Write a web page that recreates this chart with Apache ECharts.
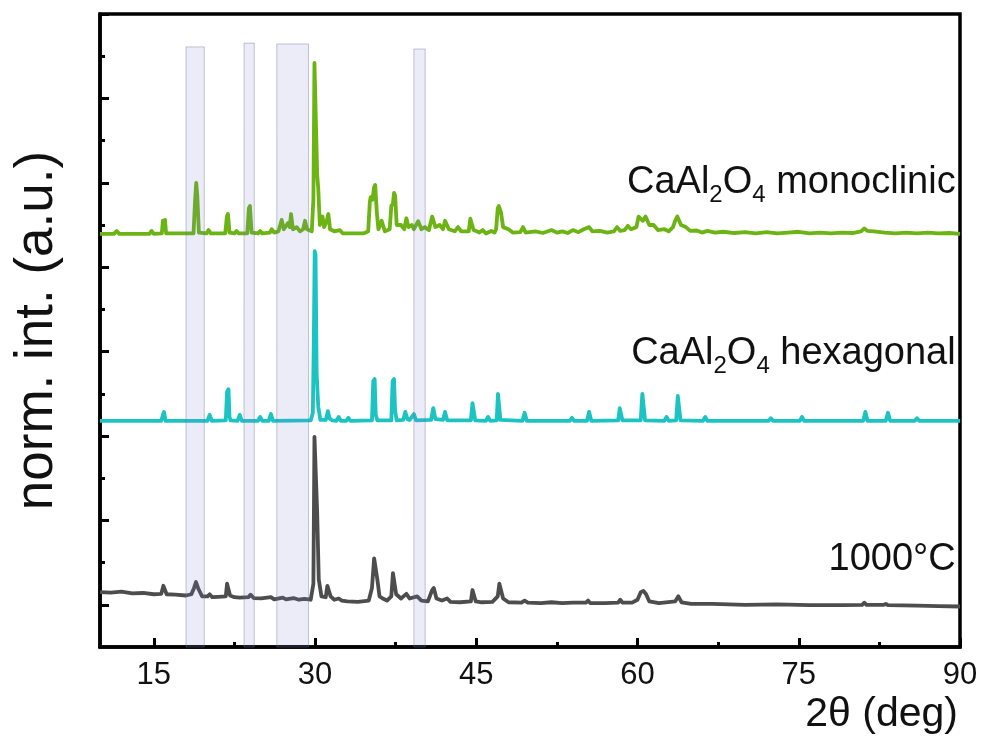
<!DOCTYPE html>
<html>
<head>
<meta charset="utf-8">
<title>XRD CaAl2O4</title>
<script src="https://cdn.jsdelivr.net/npm/echarts@6/dist/echarts.min.js"></script>
<style>
  html, body { margin: 0; padding: 0; background: #fff; }
  #chart { width: 984px; height: 749px; }
</style>
</head>
<body>
<div id="chart"></div>
<script>
  // x ticks (2theta, deg)
  const xMajorTicks = [15, 30, 45, 60, 75, 90];
  const xMinorTicks = [22.5, 37.5, 52.5, 67.5, 82.5];
  // y ticks (offset units, no labels)
  const yMajorTicks = [1, 3, 5, 7, 9, 11, 13, 15];
  const yMinorTicks = [2, 4, 6, 8, 10, 12, 14];

  // highlighted 2theta windows: [from, to, top]
  const bands = [
    [18.0, 19.7, 14.22],
    [23.4, 24.35, 14.31],
    [26.45, 29.4, 14.29],
    [39.2, 40.25, 14.17]
  ];

  // traces: [2theta, offset intensity]
  const monoclinic = [
    [10, 9.79], [11.3, 9.79], [11.55, 9.86], [11.8, 9.79], [14.6, 9.79], [14.8, 9.86], [15.0, 9.79],
    [15.75, 9.8], [15.85, 10.1], [16.05, 10.12], [16.15, 9.8], [18.7, 9.8], [18.85, 10.6], [18.95, 11.0],
    [19.05, 10.7], [19.2, 9.82], [19.9, 9.8], [20.1, 9.88], [20.3, 9.8], [21.65, 9.8], [21.8, 10.2],
    [21.9, 10.26], [22.05, 9.82], [22.5, 9.8], [22.7, 9.86], [22.9, 9.8], [23.7, 9.8], [23.85, 10.4],
    [23.95, 10.45], [24.1, 9.82], [24.7, 9.8], [24.9, 9.86], [25.1, 9.8], [25.8, 9.82], [25.97, 9.9],
    [26.2, 9.82], [26.6, 9.85], [26.9, 10.12], [27.1, 9.9], [27.5, 10.05], [27.65, 9.95], [27.77, 10.26],
    [27.95, 9.9], [28.3, 9.95], [28.6, 9.85], [28.9, 9.9], [29.07, 10.1], [29.25, 9.9], [29.7, 9.85],
    [29.85, 10.6], [29.95, 13.84], [30.05, 13.8], [30.2, 11.2], [30.3, 10.88], [30.45, 10.0], [30.7, 10.2],
    [30.85, 9.95], [31.1, 10.1], [31.24, 10.26], [31.4, 9.9], [31.8, 9.85], [32.3, 9.88], [32.6, 9.8],
    [33.5, 9.8], [34.5, 9.8], [34.95, 9.85], [35.1, 10.55], [35.18, 10.66], [35.35, 10.6], [35.5, 10.9],
    [35.6, 10.95], [35.75, 10.3], [35.9, 9.9], [36.2, 10.1], [36.5, 9.85], [36.95, 9.9], [37.1, 10.45],
    [37.25, 10.5], [37.35, 10.76], [37.45, 10.7], [37.6, 10.0], [38.0, 10.0], [38.3, 9.9], [38.5, 10.16],
    [38.7, 9.95], [39.0, 10.0], [39.2, 9.9], [39.6, 10.09], [39.9, 9.9], [40.2, 9.95], [40.6, 9.88],
    [40.9, 10.2], [41.0, 10.24], [41.2, 9.95], [41.6, 10.0], [41.9, 9.9], [42.1, 10.1], [42.25, 10.14],
    [42.45, 9.9], [43.0, 9.85], [43.3, 9.95], [43.6, 9.85], [44.3, 9.85], [44.45, 10.15], [44.57, 10.19],
    [44.75, 9.88], [45.3, 9.82], [45.6, 9.88], [45.9, 9.8], [46.4, 9.86], [46.7, 9.82], [46.85, 9.9],
    [47.0, 10.4], [47.1, 10.45], [47.3, 10.3], [47.5, 9.95], [48.0, 9.9], [48.4, 9.82], [49.1, 9.83],
    [49.35, 9.95], [49.6, 9.82], [50.5, 9.85], [51.2, 9.81], [52.0, 9.88], [52.5, 9.82], [53.0, 9.85],
    [53.5, 9.81], [54.0, 9.88], [54.5, 9.83], [55.0, 9.9], [55.5, 9.95], [55.8, 9.85], [56.5, 9.86],
    [57.2, 9.82], [57.8, 9.85], [58.1, 9.95], [58.4, 9.86], [58.8, 9.88], [59.1, 9.98], [59.4, 9.9],
    [59.9, 9.95], [60.1, 10.2], [60.25, 10.24], [60.5, 10.1], [60.75, 10.2], [60.9, 10.24], [61.1, 10.0],
    [61.5, 10.0], [61.9, 9.88], [62.5, 9.9], [62.9, 9.85], [63.3, 9.95], [63.5, 10.1], [63.7, 10.2],
    [63.85, 10.24], [64.05, 10.0], [64.5, 9.95], [64.9, 9.86], [65.5, 9.87], [66.0, 9.82], [66.5, 9.86],
    [67.2, 9.82], [68.0, 9.84], [69.0, 9.81], [70.0, 9.83], [71.0, 9.8], [72.0, 9.83], [73.0, 9.8],
    [74.0, 9.82], [75.0, 9.84], [76.0, 9.8], [77.0, 9.82], [78.0, 9.8], [79.0, 9.82], [80.0, 9.81],
    [80.8, 9.85], [81.1, 9.92], [81.4, 9.86], [82.0, 9.85], [83.0, 9.82], [84.0, 9.8], [85.0, 9.82],
    [86.0, 9.8], [87.0, 9.82], [88.0, 9.8], [89.0, 9.81], [90, 9.79]
  ];

  const hexagonal = [
    [10, 5.36], [15.7, 5.36], [15.85, 5.5], [15.95, 5.57], [16.1, 5.36], [20.0, 5.36], [20.2, 5.5],
    [20.4, 5.36], [21.7, 5.37], [21.82, 6.05], [21.95, 6.11], [22.05, 5.45], [22.15, 5.37], [22.8, 5.36],
    [23.0, 5.5], [23.2, 5.36], [24.7, 5.36], [24.9, 5.45], [25.1, 5.36], [25.7, 5.36], [25.9, 5.52],
    [26.1, 5.36], [29.6, 5.37], [29.8, 5.55], [29.9, 7.5], [29.97, 9.38], [30.05, 9.3], [30.15, 6.5],
    [30.3, 5.7], [30.5, 5.38], [31.0, 5.38], [31.2, 5.59], [31.35, 5.42], [31.6, 5.37], [32.0, 5.36],
    [32.2, 5.45], [32.4, 5.36], [32.9, 5.36], [33.1, 5.43], [33.3, 5.36], [35.3, 5.37], [35.42, 6.3],
    [35.55, 6.35], [35.65, 5.5], [35.8, 5.37], [37.1, 5.37], [37.22, 6.3], [37.35, 6.35], [37.45, 5.6],
    [37.6, 5.37], [38.2, 5.38], [38.4, 5.57], [38.6, 5.4], [38.8, 5.38], [39.2, 5.52], [39.4, 5.37],
    [40.8, 5.38], [41.0, 5.66], [41.2, 5.4], [41.9, 5.38], [42.1, 5.57], [42.3, 5.37], [44.5, 5.37],
    [44.65, 5.78], [44.75, 5.81], [44.9, 5.37], [45.9, 5.36], [46.1, 5.45], [46.3, 5.36], [46.9, 5.37],
    [47.02, 6.0], [47.12, 6.04], [47.25, 5.38], [49.3, 5.36], [49.5, 5.55], [49.7, 5.36], [53.7, 5.36],
    [53.9, 5.43], [54.1, 5.36], [55.3, 5.36], [55.5, 5.57], [55.7, 5.36], [58.2, 5.37], [58.35, 5.66],
    [58.45, 5.69], [58.6, 5.37], [60.3, 5.37], [60.45, 6.0], [60.55, 6.02], [60.7, 5.37], [62.5, 5.36],
    [62.7, 5.45], [62.9, 5.36], [63.6, 5.37], [63.75, 5.95], [63.85, 5.97], [64.0, 5.37], [66.1, 5.36],
    [66.3, 5.45], [66.5, 5.36], [72.2, 5.36], [72.4, 5.42], [72.6, 5.36], [75.1, 5.36], [75.3, 5.45],
    [75.5, 5.36], [81.0, 5.36], [81.2, 5.57], [81.4, 5.36], [83.1, 5.36], [83.3, 5.55], [83.5, 5.36],
    [85.8, 5.36], [86.0, 5.42], [86.2, 5.36], [90, 5.36]
  ];

  const calcined1000 = [
    [10, 1.3], [11, 1.29], [12, 1.31], [13, 1.27], [14, 1.28], [15, 1.25], [15.7, 1.26], [15.9, 1.45],
    [16.0, 1.47], [16.2, 1.25], [17, 1.24], [18, 1.22], [18.5, 1.25], [18.75, 1.4], [18.93, 1.54],
    [19.15, 1.38], [19.5, 1.2], [20.0, 1.2], [20.2, 1.25], [20.45, 1.18], [21.0, 1.19], [21.7, 1.2],
    [21.82, 1.5], [21.95, 1.54], [22.1, 1.22], [22.5, 1.18], [23.0, 1.17], [23.8, 1.18], [24.0, 1.24],
    [24.3, 1.16], [25.0, 1.15], [25.9, 1.18], [26.2, 1.13], [27.0, 1.17], [27.3, 1.13], [28.0, 1.16],
    [28.5, 1.12], [29.0, 1.14], [29.6, 1.12], [29.85, 1.5], [29.95, 4.98], [30.05, 4.95], [30.2, 3.2],
    [30.35, 1.6], [30.6, 1.2], [31.0, 1.18], [31.15, 1.45], [31.25, 1.47], [31.45, 1.2], [31.8, 1.12],
    [32.2, 1.15], [32.5, 1.1], [33.0, 1.08], [34.0, 1.07], [35.0, 1.1], [35.3, 1.4], [35.5, 2.1],
    [35.62, 2.13], [35.8, 1.6], [36.0, 1.2], [36.3, 1.15], [36.7, 1.1], [37.1, 1.2], [37.25, 1.75],
    [37.35, 1.78], [37.55, 1.25], [38.0, 1.15], [38.5, 1.26], [38.8, 1.15], [39.5, 1.2], [39.9, 1.1],
    [40.5, 1.08], [40.9, 1.35], [41.05, 1.4], [41.3, 1.15], [41.8, 1.1], [42.3, 1.15], [42.6, 1.07],
    [43.5, 1.06], [44.5, 1.08], [44.65, 1.35], [44.78, 1.37], [44.95, 1.08], [45.5, 1.06], [46.5, 1.07],
    [47.0, 1.2], [47.15, 1.5], [47.25, 1.52], [47.5, 1.15], [48.0, 1.06], [49.2, 1.05], [49.5, 1.1],
    [49.8, 1.05], [51, 1.04], [52, 1.06], [53, 1.04], [54, 1.05], [55.2, 1.05], [55.4, 1.1], [55.6, 1.04],
    [57, 1.04], [58.2, 1.05], [58.4, 1.12], [58.6, 1.05], [59.5, 1.05], [60.0, 1.12], [60.3, 1.3],
    [60.55, 1.33], [60.8, 1.25], [61.1, 1.08], [62, 1.04], [63.5, 1.08], [63.8, 1.2], [64.1, 1.06],
    [65, 1.02], [67, 1.02], [70, 1.0], [73, 1.01], [76, 0.99], [79, 0.99], [80.9, 1.0], [81.1, 1.05],
    [81.3, 1.0], [82.9, 1.0], [83.1, 1.02], [83.3, 0.99], [86, 0.98], [88, 0.97], [90, 0.96]
  ];

  // label anchors [2theta, y] (right edge of text)
  const labelAnchors = {
    monoclinic: [89.6, 11.0],
    hexagonal: [89.6, 6.95],
    calcined: [89.6, 2.08]
  };

  const FONT = "'Liberation Sans', Arial, sans-serif";

  const chart = echarts.init(document.getElementById("chart"), null, { renderer: "canvas" });

  const subRich = {
    a: { fontFamily: FONT, fontSize: 38, color: "#111", lineHeight: 50 },
    s: { fontFamily: FONT, fontSize: 24, color: "#111", lineHeight: 21, verticalAlign: "bottom" }
  };

  function traceLabel(anchor, text) {
    return {
      symbol: "circle",
      symbolSize: 0,
      silent: true,
      data: [{ coord: anchor }],
      label: {
        show: true,
        position: "left",
        distance: 0,
        formatter: text,
        rich: subRich
      }
    };
  }

  function traceSeries(name, data, color, label) {
    return {
      name,
      type: "line",
      data,
      showSymbol: false,
      symbol: "none",
      silent: true,
      lineStyle: { color, width: 3.8, join: "round" },
      markPoint: label,
      z: 3
    };
  }

  const tickLine = { color: "#000", width: 3 };

  chart.setOption({
    animation: false,
    backgroundColor: "#fff",
    grid: {
      left: 100,
      right: 24,
      top: 14,
      bottom: 102,
      outerBoundsMode: "none",
      containLabel: false,
      show: true,
      borderColor: "#000",
      borderWidth: 3.5,
      backgroundColor: "transparent"
    },
    graphic: [
      {
        type: "text",
        right: 26,
        top: 694,
        silent: true,
        style: {
          text: "2θ (deg)",
          fontFamily: FONT,
          fontSize: 41,
          fill: "#111"
        }
      }
    ],
    xAxis: [
      {
        type: "value",
        min: 10,
        max: 90,
        axisLine: { show: true, lineStyle: { color: "#000", width: 3.5 } },
        axisTick: { show: true, inside: true, length: 9, customValues: xMajorTicks, lineStyle: tickLine },
        axisLabel: {
          show: true,
          customValues: xMajorTicks,
          margin: 13,
          fontFamily: FONT,
          fontSize: 31,
          color: "#111"
        },
        splitLine: { show: false }
      },
      {
        type: "value",
        min: 10,
        max: 90,
        position: "bottom",
        axisLine: { show: false },
        axisTick: { show: true, inside: true, length: 5, customValues: xMinorTicks, lineStyle: tickLine },
        axisLabel: { show: false },
        splitLine: { show: false }
      }
    ],
    yAxis: [
      {
        type: "value",
        min: 0,
        max: 15,
        name: "norm. int. (a.u.)",
        nameLocation: "middle",
        nameRotate: 90,
        nameGap: 36,
        nameTextStyle: { fontFamily: FONT, fontSize: 53, color: "#111" },
        axisLine: { show: true, lineStyle: { color: "#000", width: 3.5 } },
        axisTick: { show: true, inside: true, length: 9, customValues: yMajorTicks, lineStyle: tickLine },
        axisLabel: { show: false },
        splitLine: { show: false }
      },
      {
        type: "value",
        min: 0,
        max: 15,
        position: "left",
        axisLine: { show: false },
        axisTick: { show: true, inside: true, length: 5, customValues: yMinorTicks, lineStyle: tickLine },
        axisLabel: { show: false },
        splitLine: { show: false }
      }
    ],
    series: [
      traceSeries("1000°C", calcined1000, "#4d4d4d",
        traceLabel(labelAnchors.calcined, "{a|1000°C}")),
      traceSeries("CaAl2O4 hexagonal", hexagonal, "#1cc3c3",
        traceLabel(labelAnchors.hexagonal, "{a|CaAl}{s|2}{a|O}{s|4}{a| hexagonal}")),
      traceSeries("CaAl2O4 monoclinic", monoclinic, "#6cb414",
        traceLabel(labelAnchors.monoclinic, "{a|CaAl}{s|2}{a|O}{s|4}{a| monoclinic}")),
      {
        name: "bands",
        type: "custom",
        data: bands,
        silent: true,
        z: 10,
        encode: { x: [0, 1], y: 2 },
        renderItem(params, api) {
          const topLeft = api.coord([api.value(0), api.value(2)]);
          const bottomRight = api.coord([api.value(1), 0]);
          return {
            type: "rect",
            shape: {
              x: topLeft[0],
              y: topLeft[1],
              width: bottomRight[0] - topLeft[0],
              height: bottomRight[1] - topLeft[1]
            },
            style: {
              fill: "rgba(120, 120, 210, 0.14)",
              stroke: "rgba(110, 110, 150, 0.4)",
              lineWidth: 1
            }
          };
        }
      }
    ]
  });
</script>
</body>
</html>
